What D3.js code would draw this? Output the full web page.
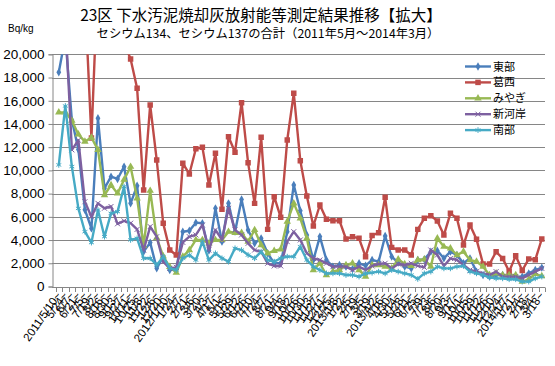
<!DOCTYPE html>
<html>
<head>
<meta charset="utf-8">
<script src="https://cdn.jsdelivr.net/npm/d3@7"></script>
<style>
  body { margin: 0; background: #fff; }
  text { font-family: "Liberation Sans", Arial, sans-serif; }
  .jp { font-family: "Noto Sans CJK JP", sans-serif; }
</style>
</head>
<body>
<div id="chart"></div>
<script>
/* Data */
const LABELS = [
  "2011/5/10~", "5/24~", "6/7~", "6/21~", "7/5~", "7/19~", "8/2~", "8/16~", "8/30~", "9/13~",
  "9/27~", "10/11~", "10/25~", "11/8~", "11/22~", "12/6~", "12/20~", "2012/1/10~", "1/24~", "2/7~",
  "2/21~", "3/6~", "3/20~", "4/3~", "4/17~", "5/1~", "5/15~", "5/29~", "6/12~", "6/26~",
  "7/10~", "7/24~", "8/7~", "8/21~", "9/4~", "9/18~", "10/2~", "10/16~", "10/30~", "11/13~",
  "11/27~", "12/11~", "12/25~", "2013/1/8~", "1/22~", "2/5~", "2/19~", "3/5~", "3/19~", "2013/4/2~",
  "4/16~", "4/30~", "5/14~", "5/28~", "6/11~", "6/25~", "7/9~", "7/23~", "8/6~", "8/20~",
  "9/3~", "9/17~", "10/1~", "10/15~", "10/29~", "11/12~", "11/26~", "12/10~", "12/24~", "2014/1/7~",
  "1/21~", "2/4~", "2/18~", "3/4~", "3/18~"
];
const TOBU = [
  18450, 21500, 14340, 11800, 6600, 5000, 14490, 8460, 9460, 9260,
  10320, 7160, 8680, 3000, 3780, 1565, 2570, 1420, 1500, 4720,
  4800, 5500, 5450, 3100, 6730, 3860, 7160, 4720, 7500, 4860,
  3720, 4150, 2860, 2000, 2000, 4720, 8740, 6530, 4440, 2280,
  4300, 2280, 1710, 1850, 1710, 1500, 2000, 1800, 2280, 2140,
  4350, 2570, 2050, 1710, 1560, 2280, 2340, 3000, 3080, 2430,
  3000, 2710, 2000, 2430, 1280, 990, 850, 990, 990, 850,
  850, 850, 1130, 1420, 1620
];
const KASAI = [
  30000, 32000, 30000, 28000, 25000, 12800, 27000, 30000, 30000, 28000,
  21000, 19600, 17070, 8310, 15640, 10900, 5440, 3140, 2710, 10610,
  9690, 11860, 11990, 8750, 11470, 6650, 12900, 11560, 15830, 10660,
  7160, 12850, 4920, 7740, 5960, 12620, 16640, 10840, 7800, 5210,
  7020, 5790, 5670, 5670, 4090, 4290, 4150, 2570, 4400, 4630,
  7680, 3370, 3140, 3140, 2710, 4920, 5870, 6100, 5640, 4430,
  6300, 5870, 3570, 5300, 4060, 1940, 1940, 2990, 2420, 1290,
  2640, 1380, 2380, 2300, 4090
];
const MIYAGI = [
  15000, 15000, 14300, 13100, 12480, 12830, 11770, 7880, 8740, 8020,
  9200, 10320, 7600, 3500, 8250, 4200, 2600, 1700, 1190, 2570,
  3140, 4010, 4010, 3720, 4010, 4010, 4720, 4630, 4630, 3860,
  4870, 3570, 2860, 3080, 3200, 5590, 7160, 5870, 4150, 1420,
  2000, 990, 1280, 1420, 1850, 2000, 1420, 850, 1850, 1850,
  1710, 1560, 2340, 1940, 1770, 2280, 2340, 1710, 4150, 3430,
  3290, 2710, 3000, 2280, 2140, 1710, 990, 1130, 990, 990,
  990, 420, 620, 1080, 900
];
const SHINGASHI = [
  25000, 23000, 11770, 12600, 7300, 6000, 7160, 6740, 6890, 5400,
  5650, 5450, 4920, 3140, 5160, 4290, 2140, 1560, 1650, 3800,
  4290, 4440, 5300, 3140, 4870, 4010, 6730, 4870, 4440, 3720,
  3140, 3000, 2000, 1770, 1770, 3860, 4720, 4010, 2860, 2420,
  2280, 2000, 1710, 1710, 1710, 1420, 1710, 1420, 1770, 1940,
  2000, 1560, 1940, 1850, 2000, 1770, 1650, 3140, 2710, 1770,
  2420, 2280, 1850, 1420, 1280, 1130, 990, 1280, 850, 850,
  850, 700, 990, 1280, 1560
];
const NANBU = [
  10470, 15550, 10330, 6730, 4720, 3780, 6590, 4290, 6300, 6450,
  8600, 4010, 4150, 2430, 2430, 1850, 2570, 1560, 1420, 2430,
  2710, 2280, 3860, 2280, 2860, 2430, 2140, 3290, 3140, 2710,
  2430, 3000, 2280, 2140, 2430, 2570, 2570, 3430, 2280, 1710,
  1420, 1130, 1130, 1130, 990, 990, 850, 1130, 1190, 1280,
  1130, 1420, 1280, 1130, 990, 650, 1130, 1280, 1710, 1560,
  1560, 1710, 1770, 1280, 1130, 990, 790, 700, 700, 620,
  620, 420, 420, 700, 850
];
const SERIES_NAMES = ["東部", "葛西", "みやぎ", "新河岸", "南部"];
const Y_TICKS = [0, 2000, 4000, 6000, 8000, 10000, 12000, 14000, 16000, 18000, 20000];

/* Layout */
const WIDTH = 555
const HEIGHT = 366
const PLOT = {"left": 52, "right": 545, "top": 54.3, "bottom": 286.5}
const COLORS = ["#4A7EBB", "#BE4B48", "#98B954", "#7D60A0", "#46AAC5"]
const SYMBOLS = [d3.symbolDiamond, d3.symbolSquare, d3.symbolTriangle,
                 d3.symbolTimes || d3.symbolCross, d3.symbolAsterisk || d3.symbolStar]
const SYMBOL_SIZES = [20, 30, 24, 18, 22]
const STROKE_SYMBOL = [false, false, false, true, true]

const series = [TOBU, KASAI, MIYAGI, SHINGASHI, NANBU].map((values, k) => ({
  name: SERIES_NAMES[k], values: values, color: COLORS[k], symbol: SYMBOLS[k],
  size: SYMBOL_SIZES[k], stroke: STROKE_SYMBOL[k]
}));

const svg = d3.select("#chart")
              .append("svg")
              .attr("width", WIDTH)
              .attr("height", HEIGHT);

const xScale = d3.scalePoint()
                 .domain(LABELS)
                 .range([58.8, 541.8]);
const step = xScale.step();
const yScale = d3.scaleLinear()
                 .domain([0, 20000])
                 .range([PLOT.bottom, PLOT.top]);

/* Gridlines */
svg.append("g")
   .selectAll("line")
   .data(Y_TICKS.filter(d => d > 0))
   .enter()
   .append("line")
   .attr("x1", PLOT.left)
   .attr("x2", PLOT.right)
   .attr("y1", d => Math.round(yScale(d)) + 0.5)
   .attr("y2", d => Math.round(yScale(d)) + 0.5)
   .attr("stroke", "#868686")
   .attr("stroke-width", 1);

/* Y axis */
const yAxis = d3.axisLeft(yScale)
                .tickValues(Y_TICKS)
                .tickSize(4)
                .tickPadding(4)
                .tickFormat(d3.format(","));
const gy = svg.append("g")
              .attr("transform", "translate(" + (PLOT.left + 0.5) + ",0)")
              .call(yAxis);
gy.select(".domain").attr("stroke", "#868686");
gy.selectAll(".tick line").attr("stroke", "#868686");
gy.selectAll(".tick text")
  .attr("font-family", "'Liberation Sans', Arial, sans-serif")
  .attr("font-size", 13.5)
  .attr("fill", "#000");

/* X axis: ticks between categories */
const tickPositions = LABELS.map(d => xScale(d) - step / 2).concat([xScale(LABELS[LABELS.length - 1]) + step / 2]);
const gx = svg.append("g");
gx.append("line")
  .attr("x1", PLOT.left)
  .attr("x2", PLOT.right)
  .attr("y1", Math.round(PLOT.bottom) + 0.5)
  .attr("y2", Math.round(PLOT.bottom) + 0.5)
  .attr("stroke", "#868686");
gx.selectAll("line.tk")
  .data(tickPositions)
  .enter()
  .append("line")
  .attr("class", "tk")
  .attr("x1", d => Math.round(d) + 0.5)
  .attr("x2", d => Math.round(d) + 0.5)
  .attr("y1", Math.round(PLOT.bottom) + 0.5)
  .attr("y2", Math.round(PLOT.bottom) + 5)
  .attr("stroke", "#868686");
gx.selectAll("text")
  .data(LABELS)
  .enter()
  .append("text")
  .attr("transform", d => "translate(" + (xScale(d) + 3) + "," + (PLOT.bottom + 9) + ") rotate(-55)")
  .attr("text-anchor", "end")
  .attr("font-family", "'Liberation Sans', Arial, sans-serif")
  .attr("font-size", 11.5)
  .attr("fill", "#000")
  .text(d => d);

/* Clip */
svg.append("clipPath")
   .attr("id", "lineclip")
   .append("rect")
   .attr("x", PLOT.left)
   .attr("y", PLOT.top)
   .attr("width", PLOT.right - PLOT.left)
   .attr("height", PLOT.bottom - PLOT.top + 4);

const line = d3.line()
               .x((d, i) => xScale(LABELS[i]))
               .y(d => yScale(d));

const plot = svg.append("g");
series.forEach(s => {
  plot.append("path")
      .attr("clip-path", "url(#lineclip)")
      .attr("d", line(s.values))
      .attr("fill", "none")
      .attr("stroke", s.color)
      .attr("stroke-width", 2.4)
      .attr("stroke-linejoin", "round");
  plot.append("g")
      .attr("clip-path", "url(#lineclip)")
      .selectAll("path")
      .data(s.values)
      .enter()
      .append("path")
      .attr("transform", (d, i) => "translate(" + xScale(LABELS[i]) + "," + yScale(d) + ")")
      .attr("d", d3.symbol().type(s.symbol).size(s.size))
      .attr("fill", s.stroke ? "none" : s.color)
      .attr("stroke", s.stroke ? s.color : "none")
      .attr("stroke-width", 1);
});

/* Titles */
svg.append("text")
   .attr("class", "jp")
   .attr("x", 261)
   .attr("y", 21)
   .attr("text-anchor", "middle")
   .attr("font-size", 15.5)
   .attr("fill", "#000")
   .text("23区 下水汚泥焼却灰放射能等測定結果推移【拡大】");
svg.append("text")
   .attr("class", "jp")
   .attr("x", 268)
   .attr("y", 38)
   .attr("text-anchor", "middle")
   .attr("font-size", 12.3)
   .attr("fill", "#000")
   .text("セシウム134、セシウム137の合計（2011年5月～2014年3月）");
svg.append("text")
   .attr("x", 8)
   .attr("y", 32)
   .attr("font-size", 10)
   .attr("fill", "#000")
   .text("Bq/kg");

/* Legend */
const legend = svg.append("g").attr("transform", "translate(465,66)");
series.forEach((s, k) => {
  const g = legend.append("g").attr("transform", "translate(0," + (k * 15.9) + ")");
  g.append("line")
   .attr("x1", 0).attr("x2", 26)
   .attr("y1", 0.5).attr("y2", 0.5)
   .attr("stroke", s.color)
   .attr("stroke-width", 2.4);
  g.append("path")
   .attr("transform", "translate(13,0.5)")
   .attr("d", d3.symbol().type(s.symbol).size(s.size))
   .attr("fill", s.stroke ? "none" : s.color)
   .attr("stroke", s.stroke ? s.color : "none");
  g.append("text")
   .attr("class", "jp")
   .attr("x", 28)
   .attr("y", 4.5)
   .attr("font-size", 11)
   .attr("fill", "#000")
   .text(s.name);
});
</script>
</body>
</html>
